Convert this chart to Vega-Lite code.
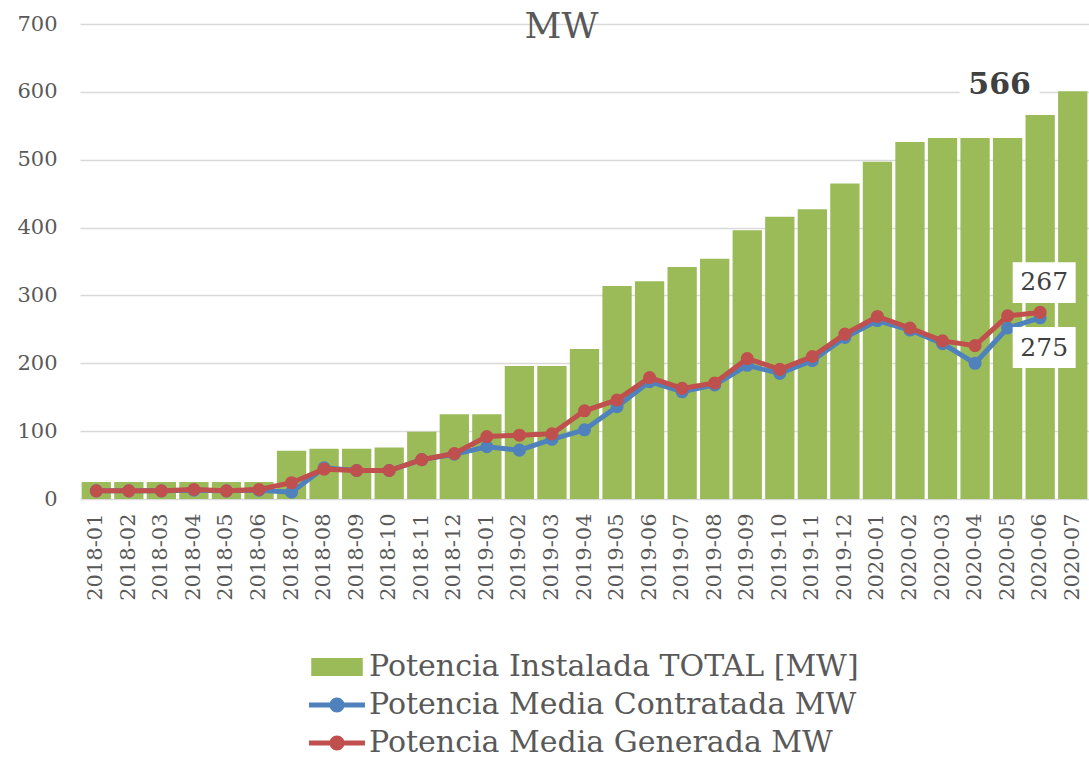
{
  "$schema": "https://vega.github.io/schema/vega-lite/v6.json",
  "width": 1009,
  "height": 475,
  "autosize": {"type": "none"},
  "padding": {"left": 80, "top": 24, "right": 0, "bottom": 259},
  "background": "white",
  "title": {"text": "MW", "font": "DejaVu Serif", "fontSize": 36, "fontWeight": "normal", "color": "#595959", "frame": "group", "anchor": "middle", "baseline": "alphabetic", "offset": -61, "dx": -23},
  "config": {"view": {"stroke": null}},
  "data": {"values": [
    {"mes": "2018-01", "instalada": 25, "contratada": 12, "generada": 12},
    {"mes": "2018-02", "instalada": 25, "contratada": 12, "generada": 12},
    {"mes": "2018-03", "instalada": 25, "contratada": 12, "generada": 12},
    {"mes": "2018-04", "instalada": 25, "contratada": 13, "generada": 14},
    {"mes": "2018-05", "instalada": 25, "contratada": 12, "generada": 12},
    {"mes": "2018-06", "instalada": 25, "contratada": 13, "generada": 14},
    {"mes": "2018-07", "instalada": 71, "contratada": 10, "generada": 24},
    {"mes": "2018-08", "instalada": 74, "contratada": 46, "generada": 44},
    {"mes": "2018-09", "instalada": 74, "contratada": 42, "generada": 42},
    {"mes": "2018-10", "instalada": 76, "contratada": 42, "generada": 42},
    {"mes": "2018-11", "instalada": 99, "contratada": 58, "generada": 58},
    {"mes": "2018-12", "instalada": 125, "contratada": 66, "generada": 67},
    {"mes": "2019-01", "instalada": 125, "contratada": 77, "generada": 92},
    {"mes": "2019-02", "instalada": 196, "contratada": 72, "generada": 94},
    {"mes": "2019-03", "instalada": 196, "contratada": 88, "generada": 96},
    {"mes": "2019-04", "instalada": 221, "contratada": 102, "generada": 130},
    {"mes": "2019-05", "instalada": 314, "contratada": 136, "generada": 146},
    {"mes": "2019-06", "instalada": 321, "contratada": 173, "generada": 179},
    {"mes": "2019-07", "instalada": 342, "contratada": 158, "generada": 163},
    {"mes": "2019-08", "instalada": 354, "contratada": 168, "generada": 171},
    {"mes": "2019-09", "instalada": 396, "contratada": 197, "generada": 207},
    {"mes": "2019-10", "instalada": 416, "contratada": 185, "generada": 191},
    {"mes": "2019-11", "instalada": 427, "contratada": 204, "generada": 210},
    {"mes": "2019-12", "instalada": 465, "contratada": 238, "generada": 243},
    {"mes": "2020-01", "instalada": 497, "contratada": 263, "generada": 269},
    {"mes": "2020-02", "instalada": 526, "contratada": 249, "generada": 252},
    {"mes": "2020-03", "instalada": 532, "contratada": 229, "generada": 233},
    {"mes": "2020-04", "instalada": 532, "contratada": 200, "generada": 226},
    {"mes": "2020-05", "instalada": 532, "contratada": 252, "generada": 270},
    {"mes": "2020-06", "instalada": 566, "contratada": 267, "generada": 275},
    {"mes": "2020-07", "instalada": 601, "contratada": null, "generada": null}
  ]},
  "encoding": {
    "x": {"field": "mes", "type": "ordinal", "scale": {"type": "band", "paddingInner": 0.1, "paddingOuter": 0.05},
      "axis": {"title": null, "labelAngle": -90, "labelAlign": "right", "labelBaseline": "middle", "labelPadding": 14, "domain": false, "ticks": false, "grid": false, "labelFont": "DejaVu Serif", "labelFontSize": 21, "labelColor": "#595959"}}
  },
  "layer": [
    {
      "mark": {"type": "bar", "color": "#9BBB59"},
      "encoding": {
        "y": {"field": "instalada", "type": "quantitative", "scale": {"domain": [0, 700], "nice": false},
          "axis": {"title": null, "values": [0, 100, 200, 300, 400, 500, 600, 700], "grid": true, "gridColor": "#D9D9D9", "gridWidth": 1.5, "domain": false, "ticks": false, "labelPadding": 23, "labelFont": "DejaVu Serif", "labelFontSize": 21, "labelColor": "#595959"}},
        "color": {"datum": "Potencia Instalada TOTAL [MW]", "type": "nominal",
          "scale": {"domain": ["Potencia Instalada TOTAL [MW]", "Potencia Media Contratada MW", "Potencia Media Generada MW"], "range": ["#9BBB59", "#4F81BD", "#C0504D"]},
          "legend": {"orient": "none", "legendX": 242, "legendY": 628, "title": null, "direction": "vertical", "padding": 0, "labelFont": "DejaVu Serif", "labelFontSize": 30, "labelColor": "#595959", "labelLimit": 800, "symbolSize": 400, "labelOffset": 17, "rowPadding": 8, "symbolStrokeWidth": 0,
            "encode": {"symbols": {"update": {
              "shape": {"signal": "datum.value == 'Potencia Instalada TOTAL [MW]' ? 'M-2.575,-0.9L2.575,-0.9L2.575,0.9L-2.575,0.9Z' : 'M-2.8,-0.24L2.8,-0.24L2.8,0.24L-2.8,0.24Z M-0.75,0A0.75,0.75 0 1,1 0.75,0A0.75,0.75 0 1,1 -0.75,0Z'"},
              "size": {"value": 400},
              "fill": {"scale": "color", "field": "value"},
              "stroke": {"value": "transparent"},
              "strokeWidth": {"value": 0},
              "opacity": {"value": 1},
              "fillOpacity": {"value": 1}
            }}}}
        }
      }
    },
    {
      "data": {"values": [{"mes": "2020-05", "lo": 588, "hi": 629, "t": "566", "ty": 610}]},
      "layer": [
        {"mark": {"type": "bar", "color": "white", "width": 80, "xOffset": -8}, "encoding": {"y": {"field": "lo", "type": "quantitative"}, "y2": {"field": "hi"}}},
        {"mark": {"type": "text", "font": "DejaVu Serif", "fontSize": 30, "fontWeight": "bold", "color": "#404040", "baseline": "middle", "align": "center", "xOffset": -8}, "encoding": {"y": {"field": "ty", "type": "quantitative"}, "text": {"field": "t"}}}
      ]
    },
    {
      "mark": {"type": "line", "strokeWidth": 5, "point": {"filled": true, "size": 170}},
      "encoding": {
        "y": {"field": "contratada", "type": "quantitative"},
        "color": {"datum": "Potencia Media Contratada MW", "type": "nominal"}
      }
    },
    {
      "mark": {"type": "line", "strokeWidth": 5, "point": {"filled": true, "size": 170}},
      "encoding": {
        "y": {"field": "generada", "type": "quantitative"},
        "color": {"datum": "Potencia Media Generada MW", "type": "nominal"}
      }
    },
    {
      "data": {"values": [
        {"mes": "2020-06", "lo": 289, "hi": 349, "t": "267", "ty": 320},
        {"mes": "2020-06", "lo": 193, "hi": 253.5, "t": "275", "ty": 223}
      ]},
      "layer": [
        {"mark": {"type": "bar", "color": "white", "width": 63, "xOffset": 4}, "encoding": {"y": {"field": "lo", "type": "quantitative"}, "y2": {"field": "hi"}}},
        {"mark": {"type": "text", "font": "DejaVu Serif", "fontSize": 25, "color": "#404040", "baseline": "middle", "align": "center", "xOffset": 4}, "encoding": {"y": {"field": "ty", "type": "quantitative"}, "text": {"field": "t"}}}
      ]
    }
  ]
}
